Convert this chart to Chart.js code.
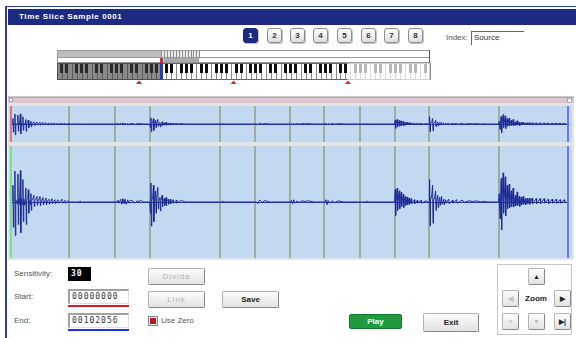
<!DOCTYPE html>
<html>
<head>
<meta charset="utf-8">
<script src="https://cdn.jsdelivr.net/npm/chart.js@4.4.1/dist/chart.umd.min.js"></script>
<style>
body{margin:0;width:576px;height:338px;background:#fff;position:relative;overflow:hidden;font-family:"Liberation Sans",Arial,sans-serif;font-size:8px;color:#444}
div,canvas{position:absolute;box-sizing:border-box}
.frame{left:5px;top:6px;width:580px;height:340px;border-top:1px solid #2c3ca4;border-left:2px solid #2c3ca4}
.title{left:8px;top:9px;width:570px;height:16px;background:#1c2a82;color:#fff;font-weight:bold;line-height:16px;padding-left:11px;letter-spacing:0.6px}
.nb{width:15px;height:15px;top:28px;border:1px solid #8c8c8c;border-radius:3px;background:linear-gradient(#fff,#dedede);text-align:center;line-height:13px;font-weight:bold;color:#333;box-shadow:1px 1px 0 #c4c4c4}
.nb.on{background:#1c2a82;color:#fff;border-color:#1c2a82}
.lbl{line-height:12px;height:12px;color:#555}
.mono{font-family:"DejaVu Sans Mono",monospace;letter-spacing:1px}
.inp{width:61px;height:15px;border-top:2px solid #a0a0a0;border-left:2px solid #a0a0a0;border-right:1px solid #e0e0e0;border-bottom:1px solid #e0e0e0;background:#fff;padding-left:2px;line-height:12px;color:#333}
.btn{border:1px solid #b4b4b4;border-right-color:#888;border-bottom-color:#888;border-radius:2px;background:linear-gradient(#fcfcfc,#e2e2e2);text-align:center;font-weight:bold;color:#222}
.off{color:#b0b0b0;font-weight:normal;letter-spacing:1px}
.zb{width:17px;height:17px;font-size:7px;line-height:15px}
</style>
</head>
<body>
<div class="frame"></div>
<div class="title">Time Slice Sample 0001</div>

<div class="nb on" style="left:243px">1</div>
<div class="nb" style="left:267px">2</div>
<div class="nb" style="left:290px">3</div>
<div class="nb" style="left:313px">4</div>
<div class="nb" style="left:337px">5</div>
<div class="nb" style="left:361px">6</div>
<div class="nb" style="left:384px">7</div>
<div class="nb" style="left:408px">8</div>
<div class="lbl" style="left:446px;top:32px">Index:</div>
<div style="left:471px;top:31px;width:53px;height:14px;border-top:1px solid #666;border-left:1px solid #666;padding-left:2px;line-height:12px;color:#333">Source</div>

<canvas id="keys" width="400" height="40" style="left:50px;top:48px"></canvas>

<div style="left:8px;top:96px;width:566px;height:164px;background:#e4e4e4;border-top:1px solid #c8c8c8"></div>
<div style="left:8px;top:97px;width:566px;height:6px;background:#dcc4d2;border-top:1px solid #b8a6b0"></div>
<div style="left:9px;top:98px;width:4px;height:4px;background:#fff;border:1px solid #aaa"></div>
<div style="left:567px;top:98px;width:5px;height:5px;background:#fff;border:1px solid #aaa"></div>
<canvas id="overview" width="570" height="36" style="left:4px;top:106px"></canvas>
<canvas id="wave" width="570" height="112" style="left:4px;top:146px"></canvas>

<div class="lbl" style="left:14px;top:268px">Sensitivity:</div>
<div class="mono" style="left:68px;top:267px;width:23px;height:14px;background:#000;color:#fff;padding-left:3px;line-height:14px;font-weight:bold">30</div>
<div class="lbl" style="left:14px;top:291px">Start:</div>
<div class="inp mono" style="left:68px;top:289px">00000000</div>
<div style="left:68px;top:305px;width:61px;height:2px;background:#d42020"></div>
<div class="lbl" style="left:14px;top:315px">End:</div>
<div class="inp mono" style="left:68px;top:313px">00102056</div>
<div style="left:68px;top:329px;width:61px;height:2px;background:#2030e0"></div>

<div class="btn off" style="left:148px;top:268px;width:57px;height:17px;line-height:15px">Divide</div>
<div class="btn off" style="left:148px;top:291px;width:57px;height:17px;line-height:15px">Link</div>
<div class="btn" style="left:222px;top:291px;width:57px;height:17px;line-height:15px">Save</div>
<div style="left:148px;top:316px;width:10px;height:10px;border:1px solid #888;background:#eee"></div>
<div style="left:150px;top:318px;width:6px;height:6px;background:#c01818"></div>
<div class="lbl" style="left:161px;top:315px">Use Zero</div>

<div class="btn" style="left:349px;top:314px;width:53px;height:15px;line-height:13px;background:#1f9a3c;border-color:#167a2e;color:#fff">Play</div>
<div class="btn" style="left:423px;top:313px;width:56px;height:19px;line-height:17px">Exit</div>

<div style="left:497px;top:264px;width:75px;height:71px;border:1px solid #c8c8c8"></div>
<div class="btn zb" style="left:528px;top:268px">&#9650;</div>
<div class="btn zb" style="left:502px;top:290px;color:#c0c0c0">&#9664;</div>
<div style="left:522px;top:293px;width:28px;text-align:center;font-weight:bold;color:#222;line-height:12px">Zoom</div>
<div class="btn zb" style="left:554px;top:290px">&#9654;</div>
<div class="btn zb" style="left:502px;top:313px;color:#c0c0c0">&#171;</div>
<div class="btn zb" style="left:528px;top:313px;color:#c0c0c0">&#9660;</div>
<div class="btn zb" style="left:554px;top:313px">&#9654;|</div>

<script>
// sample length of the source and where each slice starts (in samples)
const sampleEnd = 102056;
const sliceStarts = [10630, 19050, 25470, 38290, 44700, 51110, 57340, 63940, 70350, 76580, 89400];

// waveform: [sample position, level -1..1]
const wavePoints = [
  [0,0],[300,0.03],[360,0.3],[440,-0.45],[520,0.02],
  [660,0.05],[720,0.55],[800,-0.6],[880,0.04],
  [1100,-0.03],[1260,0.5],[1340,-0.4],[1420,0.05],
  [1560,-0.04],[1720,0.56],[1800,-0.55],[1880,0.06],
  [2050,-0.05],[2180,0.4],[2260,-0.35],[2340,0.05],
  [2550,-0.06],[2720,0.25],[2800,-0.4],[2880,0.04],
  [3050,0.06],[3180,0.22],[3260,-0.2],[3340,0.03],
  [3500,-0.04],[3640,0.15],[3720,-0.15],[3800,0.03],
  [3980,0.05],[4200,0.12],[4280,-0.08],[4360,0.02],
  [4580,0.05],[4760,0.1],[4840,-0.06],[5000,0.02],[5310,0.1],[5400,-0.07],[5600,0.03],[5860,0.08],
  [5940,-0.05],[6200,0.02],[6410,0.07],[6490,-0.05],[6700,0.02],[6960,0.05],[7040,-0.04],[7300,0.01],
  [7500,0.06],[7580,-0.03],[7800,0.01],[8050,0.04],[8130,-0.03],[8400,0.01],[8600,0.04],[8680,-0.02],
  [9000,0.01],[9330,0.05],[9410,-0.02],[9700,0.01],[9880,0.03],[9960,-0.02],[10400,0.02],[10800,0],
  [12500,0],[12700,0.02],[12900,-0.01],[13100,0],
  [19400,0],[19600,0.03],[19800,-0.02],[20100,0.05],[20300,-0.04],[20500,0.06],[20700,-0.03],[20900,0.05],
  [21100,-0.04],[21400,0.04],[21600,-0.02],[21900,0.03],[22300,0.02],[22700,-0.02],[23100,0.02],[23500,0.01],
  [23900,0.03],[24200,0],
  [25400,0],[25560,-0.2],[25640,0.34],[25720,-0.43],[25800,0.03],[25980,0.1],[26100,0.3],[26180,-0.35],
  [26260,0.02],[26500,0.2],[26580,-0.2],[26660,0.03],[26900,0.26],[26980,-0.12],[27060,0.02],[27300,0.08],
  [27380,-0.16],[27460,0.02],[27700,0.12],[27780,-0.08],[27860,0.02],[28100,0.06],[28180,-0.06],[28400,0.08],
  [28480,-0.07],[28560,0.01],[28800,0.05],[28880,-0.04],[29200,0.05],[29280,-0.03],[29700,0.04],[29780,-0.02],
  [30300,0.03],[30380,-0.02],[30900,0.02],[31300,0.02],[31800,0.01],[32000,0],
  [38700,0],[38900,0.02],[39100,0],
  [45000,0],[45200,-0.03],[45400,0.02],[45700,0.03],[46000,-0.01],[46400,0.02],[46800,0.02],[47300,0],
  [51200,0],[51400,0.03],[51600,-0.03],[51800,0.04],[52000,-0.02],[52400,0.02],[52800,-0.01],[53300,0.02],
  [53800,0.01],[54500,0.02],[55500,0],
  [57500,0],[57700,0.04],[57900,-0.05],[58100,0.03],[58400,-0.02],[58800,0.02],[59300,-0.01],[60000,0.02],[61000,0],
  [65100,0],[65300,0.02],[65500,0],
  [70300,0],[70400,0.22],[70480,-0.24],[70560,0.02],[70760,0.25],[70840,-0.15],[70920,0.02],[71150,0.2],
  [71230,-0.12],[71310,0.02],[71500,0.17],[71580,-0.08],[71660,0.01],[71880,0.14],[71960,-0.1],[72040,0.01],
  [72250,0.1],[72330,-0.06],[72600,0.09],[72680,-0.05],[72950,0.07],[73030,-0.04],[73330,0.06],[73410,-0.03],
  [73900,0.04],[73980,-0.03],[74450,0.03],[74530,-0.02],[75150,0.03],[75230,-0.02],[76000,0.02],[76400,0],
  [76600,0],[76700,0.4],[76780,-0.43],[76860,0.03],[77100,0.12],[77250,0.3],[77330,-0.38],[77410,0.02],
  [77650,0.1],[77800,0.2],[77880,-0.15],[77960,0.02],[78200,0.12],[78280,-0.1],[78360,0.01],[78560,0.08],
  [78640,-0.06],[78900,0.1],[78980,-0.04],[79300,0.05],[79380,-0.05],[79650,0.04],[79730,-0.02],[80200,0.05],
  [80280,-0.03],[80900,0.03],[80980,-0.02],[81650,0.04],[81730,-0.02],[82400,0.02],[82800,0.03],[82880,-0.01],
  [83900,0.02],[84600,0.01],[85300,0.02],[86000,0],[86700,0.01],[87400,0],
  [89300,0],[89450,0.15],[89600,-0.3],[89680,0.02],[89820,0.42],[89900,-0.5],[89980,0.03],[90180,0.52],
  [90260,-0.2],[90340,0.02],[90560,0.45],[90640,-0.25],[90720,0.02],[90920,0.3],[91000,-0.12],[91080,0.02],
  [91290,0.32],[91370,-0.1],[91450,0.02],[91660,0.2],[91740,-0.08],[92020,0.25],[92100,-0.09],[92400,0.12],
  [92480,-0.07],[92760,0.18],[92840,-0.06],[93130,0.1],[93210,-0.08],[93500,0.09],[93580,-0.05],[93860,0.1],
  [93940,-0.04],[94230,0.06],[94310,-0.05],[94600,0.07],[94680,-0.03],[95000,0.07],[95080,-0.04],[95500,0.07],
  [95580,-0.03],[96230,0.06],[96310,-0.03],[96960,0.06],[97040,-0.03],[97700,0.06],[97780,-0.02],[98430,0.05],
  [98510,-0.03],[99160,0.05],[99240,-0.02],[99900,0.05],[99980,-0.02],[100620,0.04],[100700,-0.02],[101360,0.04],
  [101440,-0.01],[102056,0]
];

// keyboard: source key, slice keys, and the marker keys (white key index)
const sourceKey = 21;
const sliceKeyCount = 13;
const markerKeys = [16, 35, 58];

// slice lines, background and start/end markers for a waveform view
const slicePlugin = {
    id: 'slices',
    beforeDatasetsDraw(chart, args, opts) {
        const {ctx, chartArea: a, scales: {x, y}} = chart;
        ctx.save();
        ctx.fillStyle = '#c3d8f1';
        ctx.fillRect(a.left - 2, a.top, a.right - a.left + 6, a.bottom - a.top);
        ctx.strokeStyle = '#9cae9c';
        ctx.lineWidth = 2;
        sliceStarts.forEach(s => {
            const px = Math.round(x.getPixelForValue(s));
            ctx.beginPath(); ctx.moveTo(px, a.top); ctx.lineTo(px, a.bottom); ctx.stroke();
        });
        const cy = Math.round(y.getPixelForValue(0)) + 0.5;
        ctx.lineWidth = 1;
        ctx.strokeStyle = '#2b3ba6';
        ctx.beginPath(); ctx.moveTo(a.left, cy); ctx.lineTo(a.right, cy); ctx.stroke();
        ctx.strokeStyle = '#7ee6f2';
        ctx.beginPath(); ctx.moveTo(a.right, cy); ctx.lineTo(a.right + 4, cy); ctx.stroke();
        ctx.restore();
    },
    afterDatasetsDraw(chart, args, opts) {
        const {ctx, chartArea: a, scales: {x}} = chart;
        ctx.save();
        ctx.lineWidth = 2;
        ctx.strokeStyle = opts.startColor;
        let px = Math.round(x.getPixelForValue(0));
        ctx.beginPath(); ctx.moveTo(px, a.top); ctx.lineTo(px, a.bottom); ctx.stroke();
        ctx.strokeStyle = '#6a74f4';
        px = Math.round(x.getPixelForValue(sampleEnd));
        ctx.beginPath(); ctx.moveTo(px, a.top); ctx.lineTo(px, a.bottom); ctx.stroke();
        ctx.restore();
    }
};

function waveConfig(startColor) {
    return {
        type: 'line',
        data: {
            datasets: [{
                data: wavePoints.map(([x, y]) => ({x, y})),
                borderColor: '#1e2c94',
                borderWidth: 1,
                pointRadius: 0,
                tension: 0,
                fill: false
            }]
        },
        options: {
            responsive: false,
            animation: false,
            layout: {padding: {left: 7, right: 6, top: 0, bottom: 0}},
            plugins: {legend: {display: false}, tooltip: {enabled: false}, slices: {startColor}},
            scales: {
                x: {type: 'linear', display: false, min: 0, max: sampleEnd},
                y: {display: false, min: -1, max: 1}
            }
        },
        plugins: [slicePlugin]
    };
}

const overviewChart = new Chart(document.getElementById('overview'), waveConfig('#e87878'));
const waveChart = new Chart(document.getElementById('wave'), waveConfig('#7ee07e'));

// keyboard strip above the waveform
const kb = document.getElementById('keys').getContext('2d');
kb.translate(-50, -48);
const K0 = 57, K1 = 430, KW = (K1 - K0) / 75;
const srcX = K0 + sourceKey * KW;
kb.fillStyle = '#fff';
kb.fillRect(K0, 50, K1 - K0, 13);
kb.fillStyle = '#bcbcbc';
kb.fillRect(K0, 50, srcX - K0, 8);
kb.fillStyle = '#ececec';
kb.fillRect(srcX, 50, sliceKeyCount * 2.91, 8);
kb.strokeStyle = '#8a8a8a';
kb.lineWidth = 1;
for (let i = 0; i <= sliceKeyCount; i++) {
    const tx = Math.round(srcX + i * 2.91) + 0.5;
    kb.beginPath(); kb.moveTo(tx, 51); kb.lineTo(tx, 57); kb.stroke();
}
kb.fillStyle = '#aaaaaa';
kb.fillRect(srcX + 2, 58, sliceKeyCount * 2.91 - 2, 4);
kb.strokeStyle = '#9a9a9a';
kb.strokeRect(K0 + 0.5, 50.5, K1 - K0 - 1, 12);
kb.beginPath(); kb.moveTo(K0, 57.5); kb.lineTo(K1, 57.5); kb.stroke();
kb.strokeStyle = '#555';
kb.beginPath(); kb.moveTo(K1 - 0.5, 50); kb.lineTo(K1 - 0.5, 63); kb.stroke();
// white keys
kb.fillStyle = '#fff';
kb.fillRect(K0, 63, K1 - K0, 17);
kb.strokeStyle = '#8a8a8a';
for (let i = 0; i <= 75; i++) {
    const wx = Math.round(K0 + i * KW) + 0.5;
    kb.beginPath(); kb.moveTo(wx, 63); kb.lineTo(wx, 80); kb.stroke();
}
// black keys
kb.fillStyle = '#111';
for (let i = 0; i < 75; i++) {
    if ([0, 1, 3, 4, 5].includes(i % 7) && i < 74) {
        const bx = K0 + (i + 1) * KW;
        kb.fillRect(Math.round(bx - 1.5), 63, 3, 10);
    }
}
kb.strokeStyle = '#666';
kb.strokeRect(K0 + 0.5, 63.5, K1 - K0 - 1, 16);
// shaded range below the source key, faded top range
kb.fillStyle = 'rgba(60,60,60,0.6)';
kb.fillRect(K0, 63, srcX - K0, 17);
kb.fillStyle = 'rgba(255,255,255,0.7)';
kb.fillRect(K0 + markerKeys[2] * KW + 2, 63, K1 - (K0 + markerKeys[2] * KW + 2), 17);
kb.fillStyle = '#1f3fc0';
kb.fillRect(Math.round(srcX) - 1, 63, 3, 17);
kb.fillStyle = '#d43030';
kb.fillRect(Math.round(srcX) - 1, 58, 3, 5);
// red key markers
kb.fillStyle = '#c83232';
markerKeys.forEach(k => {
    const mx = K0 + (k + 0.5) * KW;
    kb.beginPath(); kb.moveTo(mx - 3, 84); kb.lineTo(mx + 3, 84); kb.lineTo(mx, 80.5); kb.closePath(); kb.fill();
});
</script>
</body>
</html>
